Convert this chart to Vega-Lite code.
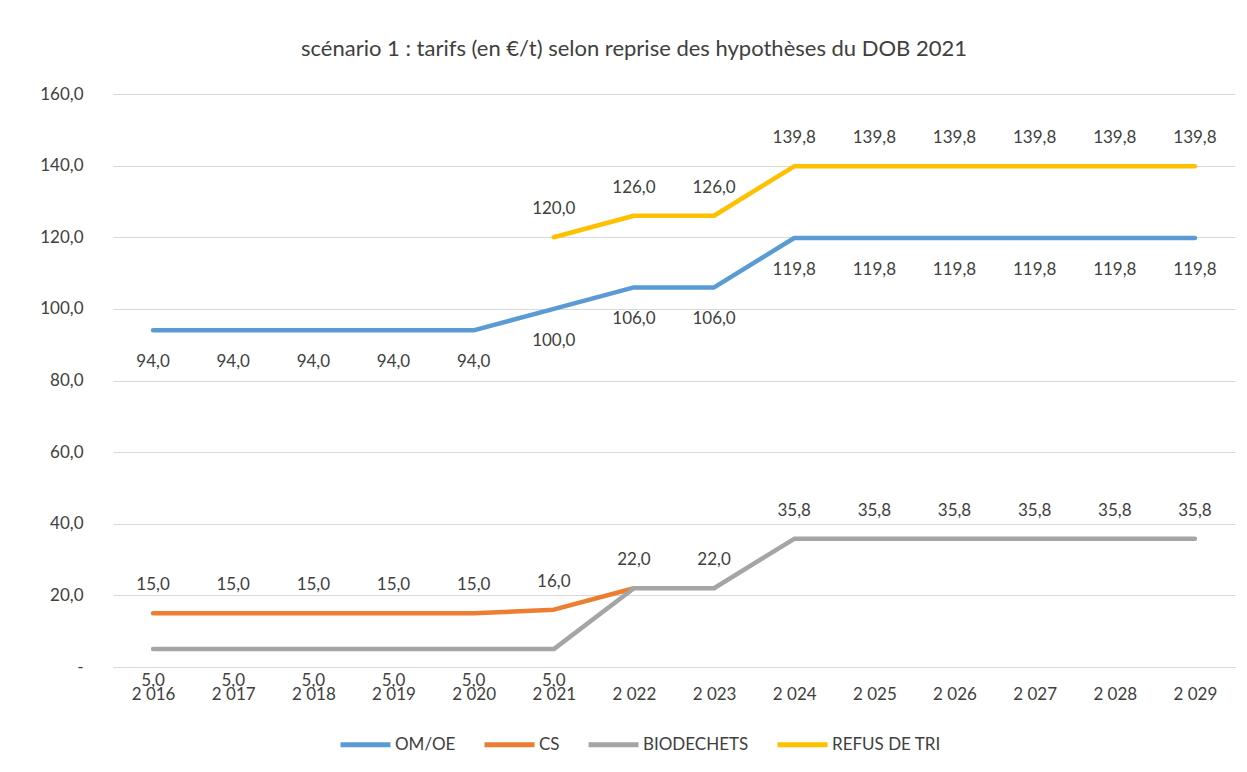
{
  "$schema": "https://vega.github.io/schema/vega-lite/v6.json",
  "width": 1122,
  "height": 573,
  "autosize": {"type": "none"},
  "padding": {"left": 113, "top": 94, "right": 12, "bottom": 105},
  "background": "white",
  "config": {
    "locale": {"number": {"decimal": ",", "thousands": " ", "grouping": [3], "currency": ["", " €"]}},
    "font": "Lato",
    "view": {"stroke": null},
    "axis": {"labelFont": "Lato", "labelColor": "#404040"},
    "legend": {"labelFont": "Lato"}
  },
  "title": {
    "text": "scénario 1 : tarifs (en €/t) selon reprise des hypothèses du DOB 2021",
    "font": "Lato",
    "fontSize": 22,
    "fontWeight": "normal",
    "color": "#404040",
    "anchor": "middle",
    "offset": 24,
    "dx": -40
  },
  "data": {
    "values": [
      {"year": "2 016", "serie": "OM/OE", "v": 94.0},
      {"year": "2 017", "serie": "OM/OE", "v": 94.0},
      {"year": "2 018", "serie": "OM/OE", "v": 94.0},
      {"year": "2 019", "serie": "OM/OE", "v": 94.0},
      {"year": "2 020", "serie": "OM/OE", "v": 94.0},
      {"year": "2 021", "serie": "OM/OE", "v": 100.0},
      {"year": "2 022", "serie": "OM/OE", "v": 106.0},
      {"year": "2 023", "serie": "OM/OE", "v": 106.0},
      {"year": "2 024", "serie": "OM/OE", "v": 119.8},
      {"year": "2 025", "serie": "OM/OE", "v": 119.8},
      {"year": "2 026", "serie": "OM/OE", "v": 119.8},
      {"year": "2 027", "serie": "OM/OE", "v": 119.8},
      {"year": "2 028", "serie": "OM/OE", "v": 119.8},
      {"year": "2 029", "serie": "OM/OE", "v": 119.8},
      {"year": "2 016", "serie": "CS", "v": 15.0},
      {"year": "2 017", "serie": "CS", "v": 15.0},
      {"year": "2 018", "serie": "CS", "v": 15.0},
      {"year": "2 019", "serie": "CS", "v": 15.0},
      {"year": "2 020", "serie": "CS", "v": 15.0},
      {"year": "2 021", "serie": "CS", "v": 16.0},
      {"year": "2 022", "serie": "CS", "v": 22.0, "nolabel": true},
      {"year": "2 016", "serie": "BIODECHETS", "v": 5.0},
      {"year": "2 017", "serie": "BIODECHETS", "v": 5.0},
      {"year": "2 018", "serie": "BIODECHETS", "v": 5.0},
      {"year": "2 019", "serie": "BIODECHETS", "v": 5.0},
      {"year": "2 020", "serie": "BIODECHETS", "v": 5.0},
      {"year": "2 021", "serie": "BIODECHETS", "v": 5.0},
      {"year": "2 022", "serie": "BIODECHETS", "v": 22.0},
      {"year": "2 023", "serie": "BIODECHETS", "v": 22.0},
      {"year": "2 024", "serie": "BIODECHETS", "v": 35.8},
      {"year": "2 025", "serie": "BIODECHETS", "v": 35.8},
      {"year": "2 026", "serie": "BIODECHETS", "v": 35.8},
      {"year": "2 027", "serie": "BIODECHETS", "v": 35.8},
      {"year": "2 028", "serie": "BIODECHETS", "v": 35.8},
      {"year": "2 029", "serie": "BIODECHETS", "v": 35.8},
      {"year": "2 021", "serie": "REFUS DE TRI", "v": 120.0},
      {"year": "2 022", "serie": "REFUS DE TRI", "v": 126.0},
      {"year": "2 023", "serie": "REFUS DE TRI", "v": 126.0},
      {"year": "2 024", "serie": "REFUS DE TRI", "v": 139.8},
      {"year": "2 025", "serie": "REFUS DE TRI", "v": 139.8},
      {"year": "2 026", "serie": "REFUS DE TRI", "v": 139.8},
      {"year": "2 027", "serie": "REFUS DE TRI", "v": 139.8},
      {"year": "2 028", "serie": "REFUS DE TRI", "v": 139.8},
      {"year": "2 029", "serie": "REFUS DE TRI", "v": 139.8}
    ]
  },
  "encoding": {
    "x": {
      "field": "year",
      "type": "ordinal",
      "sort": null,
      "scale": {"type": "point", "padding": 0.5},
      "axis": {
        "title": null,
        "labelAngle": 0,
        "labelFontSize": 17,
        "labelPadding": 19,
        "ticks": false,
        "domain": true,
        "domainColor": "#d9d9d9",
        "grid": false
      }
    },
    "y": {
      "field": "v",
      "type": "quantitative",
      "scale": {"domain": [0, 160], "nice": false},
      "axis": {
        "title": null,
        "values": [0, 20, 40, 60, 80, 100, 120, 140, 160],
        "labelExpr": "datum.value == 0 ? '-    ' : replace(format(datum.value, '.1f'), '.', ',')",
        "labelFontSize": 17,
        "labelPadding": 30,
        "ticks": false,
        "domain": false,
        "grid": true,
        "gridColor": "#d9d9d9",
        "gridWidth": 1
      }
    }
  },
  "layer": [
    {
      "mark": {"type": "line", "strokeWidth": 4.5, "strokeCap": "round", "strokeJoin": "round"},
      "encoding": {
        "color": {
          "field": "serie",
          "type": "nominal",
          "sort": ["OM/OE", "CS", "BIODECHETS", "REFUS DE TRI"],
          "scale": {"domain": ["OM/OE", "CS", "BIODECHETS", "REFUS DE TRI"], "range": ["#5B9BD5", "#ED7D31", "#A5A5A5", "#FFC000"]},
          "legend": {
            "title": null,
            "orient": "none",
            "legendX": 225,
            "legendY": 623,
            "direction": "horizontal",
            "symbolType": "stroke",
            "symbolSize": 2500,
            "symbolStrokeWidth": 5,
            "labelFontSize": 17,
            "labelColor": "#404040",
            "labelOffset": 2,
            "columnPadding": 18
          }
        }
      }
    },
    {
      "transform": [{"filter": "datum.nolabel != true && (datum.serie == 'REFUS DE TRI' || datum.serie == 'CS' || (datum.serie == 'BIODECHETS' && datum.v > 5))"}],
      "mark": {"type": "text", "dy": -28, "fontSize": 17, "color": "#404040", "baseline": "middle"},
      "encoding": {"text": {"field": "v", "type": "quantitative", "format": ".1f"}}
    },
    {
      "transform": [{"filter": "datum.serie == 'OM/OE' || (datum.serie == 'BIODECHETS' && datum.v <= 5)"}],
      "mark": {"type": "text", "dy": 32, "fontSize": 17, "color": "#404040", "baseline": "middle"},
      "encoding": {"text": {"field": "v", "type": "quantitative", "format": ".1f"}}
    }
  ]
}
